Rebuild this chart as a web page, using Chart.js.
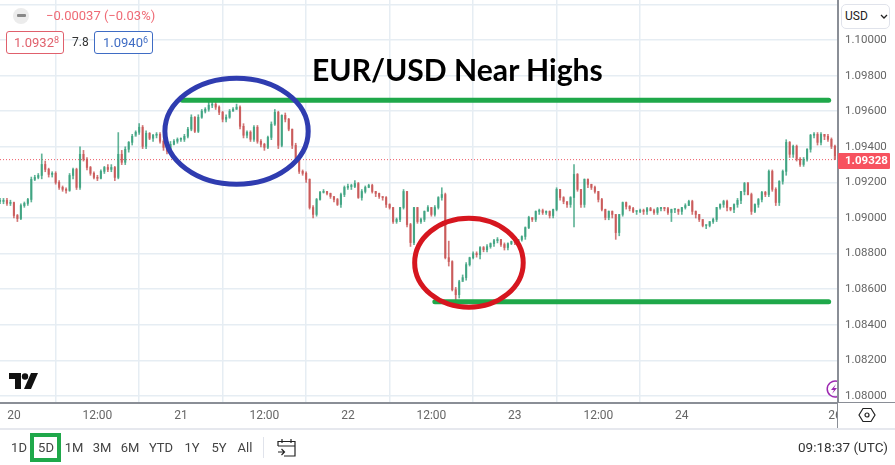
<!DOCTYPE html>
<html>
<head>
<meta charset="utf-8">
<title>EUR/USD Near Highs</title>
<script src="https://cdn.jsdelivr.net/npm/chart.js@4/dist/chart.umd.min.js"></script>
<style>
    html, body { margin: 0; padding: 0; background: #fff; }
    #wrap { position: relative; width: 895px; height: 465px; overflow: hidden; font-family: Roboto, "Liberation Sans", sans-serif; }
    #wrap canvas { position: absolute; left: 0; top: 0; }
    .t { position: absolute; white-space: nowrap; line-height: 1; }
    .box { position: absolute; box-sizing: border-box; background: #fff; border-radius: 3px; }
    .range { position: absolute; top: 441px; font-size: 13px; line-height: 14px; color: #444; transform: translateX(-50%); }
    sup { font-size: 9px; line-height: 0; vertical-align: 4px; }
    svg { position: absolute; overflow: visible; }
</style>
</head>
<body>
<div id="wrap">
    <canvas id="chart" width="895" height="465"></canvas>

    <!-- Header -->
    <div style="position:absolute;left:13px;top:8px;width:16px;height:16px;border-radius:50%;background:#ececec"></div>
    <div style="position:absolute;left:17px;top:14px;width:9px;height:3px;border-radius:1px;background:#888"></div>
    <div class="t" style="left:46px;top:9px;font-size:13px;color:#ef6a75">−0.00037 (−0.03%)</div>
    <div class="box" style="left:6px;top:31px;width:58px;height:23px;border:1px solid #e0606c"></div>
    <div class="t" style="left:14px;top:36px;font-size:13px;color:#e0606c">1.0932<sup>8</sup></div>
    <div class="t" style="left:72px;top:36px;font-size:12px;color:#333">7.8</div>
    <div class="box" style="left:94px;top:31px;width:59px;height:23px;border:1px solid #3f6cc4"></div>
    <div class="t" style="left:103px;top:36px;font-size:13px;color:#3f6cc4">1.0940<sup>6</sup></div>
    <div class="t" style="left:312px;top:54px;font-family:Lato;font-weight:700;font-size:30.1px;color:#000">EUR/USD Near Highs</div>

    <!-- Price panel -->
    <div class="box" style="left:841px;top:4px;width:49px;height:25px;border:1px solid #e0e3eb;border-radius:5px"></div>
    <div class="t" style="left:845px;top:10px;font-size:12px;color:#222">USD</div>
    <svg style="left:880px;top:14px" width="8" height="6"><path d="M1 1 L4 4 L7 1" fill="none" stroke="#222" stroke-width="1.3"/></svg>
    <div class="box" style="left:838px;top:153px;width:52px;height:16px;background:#f7525f;border-radius:1px"></div>
    <div class="t" style="left:845px;top:155px;font-size:11.5px;font-weight:700;color:#fff">1.09328</div>

    <!-- Bottom corner -->
    <div class="box" style="left:838px;top:403px;width:57px;height:25px;border-radius:0"></div>
    <svg style="left:858px;top:407px" width="18" height="16"><path d="M1 8 L5 1.5 H13 L17 8 L13 14.5 H5 Z" fill="none" stroke="#222" stroke-width="1.2"/><circle cx="9" cy="8" r="2" fill="none" stroke="#222" stroke-width="1.2"/></svg>
    <svg style="left:825px;top:380px" width="12" height="18" viewBox="0 0 12 18"><path d="M12 1.2 A8 8 0 1 0 12 16.8" fill="none" stroke="#9c27b0" stroke-width="1.5"/><path d="M11 4 L6 10 H9 L7 14 L12 8 H9 Z" fill="#9c27b0"/></svg>
    <svg style="left:9px;top:373px" width="30" height="17" viewBox="0 0 30 17"><path d="M0 0 H12 V16 H6 V6 H0 Z" fill="#111"/><circle cx="16" cy="3.5" r="3.2" fill="#111"/><path d="M22 0 H29 L22 16 H15 Z" fill="#111"/></svg>

    <!-- Range toolbar -->
    <div class="box" style="left:30px;top:433px;width:31px;height:29px;border:4px solid #1fa84a;border-radius:0"></div>
    <div class="range" style="left:19px">1D</div>
    <div class="range" style="left:46px">5D</div>
    <div class="range" style="left:74px">1M</div>
    <div class="range" style="left:102px">3M</div>
    <div class="range" style="left:130px">6M</div>
    <div class="range" style="left:161px">YTD</div>
    <div class="range" style="left:192px">1Y</div>
    <div class="range" style="left:219px">5Y</div>
    <div class="range" style="left:245px">All</div>
    <div style="position:absolute;left:263px;top:437px;width:1px;height:21px;background:#e0e3eb"></div>
    <svg style="left:277px;top:438px" width="19" height="19"><path d="M1 8 V3.5 H18 V18 H7 M1 8 H18 M5 1 V5 M14 1 V5 M1 14 H7 M4.5 11 L7.5 14 L4.5 17" fill="none" stroke="#222" stroke-width="1.2"/></svg>
    <div class="t" style="right:7px;top:441px;font-size:13.5px;color:#333">09:18:37 (UTC)</div>
</div>

<script>

// Data Storage {

    // Axis {

        const yTicks = [1.10200, 1.10000, 1.09800, 1.09600, 1.09400, 1.09200, 1.09000, 1.08800, 1.08600, 1.08400, 1.08200, 1.08000];
        const yLabelled = [1.10000, 1.09800, 1.09600, 1.09400, 1.09200, 1.09000, 1.08800, 1.08600, 1.08400, 1.08200, 1.08000];
        const xHours = [0, 12, 24, 36, 48, 60, 72, 84, 96, 118];
        const xLabels = ['20', '12:00', '21', '12:00', '22', '12:00', '23', '12:00', '24', '26'];

    // };

    // Candles, one every half hour from 22:00 on the 19th {

        const closes = [
            1.09093,1.09099,1.09082,1.09087,1.09014,1.08997,1.09070,1.09082,1.09104,1.09217,
            1.09228,1.09239,1.09301,1.09273,1.09245,1.09251,1.09200,1.09172,1.09161,1.09155,
            1.09239,1.09273,1.09172,1.09358,1.09330,1.09284,1.09251,1.09228,1.09223,1.09262,
            1.09284,1.09273,1.09284,1.09228,1.09358,1.09313,1.09386,1.09425,1.09459,1.09482,
            1.09510,1.09403,1.09476,1.09448,1.09465,1.09470,1.09431,1.09397,1.09375,1.09414,
            1.09431,1.09442,1.09442,1.09459,1.09499,1.09566,1.09487,1.09566,1.09600,1.09611,
            1.09634,1.09639,1.09623,1.09594,1.09555,1.09566,1.09600,1.09611,1.09623,1.09515,
            1.09465,1.09482,1.09442,1.09510,1.09431,1.09414,1.09397,1.09453,1.09527,1.09594,
            1.09408,1.09577,1.09555,1.09499,1.09408,1.09330,1.09262,1.09251,1.09217,1.09059,
            1.09020,1.09104,1.09144,1.09149,1.09138,1.09121,1.09104,1.09076,1.09132,1.09172,
            1.09177,1.09177,1.09194,1.09115,1.09149,1.09172,1.09183,1.09149,1.09138,1.09121,
            1.09115,1.09076,1.09059,1.08980,1.08992,1.09059,1.09149,1.08963,1.08862,1.09059,
            1.08980,1.08992,1.09037,1.09059,1.09020,1.09059,1.09115,1.09132,1.08777,1.08755,
            1.08597,1.08569,1.08642,1.08665,1.08738,1.08777,1.08800,1.08794,1.08834,1.08822,
            1.08839,1.08856,1.08873,1.08879,1.08851,1.08834,1.08856,1.08868,1.08862,1.08879,
            1.08896,1.08946,1.09003,1.08992,1.09037,1.09042,1.09031,1.09037,1.09014,1.09048,
            1.09161,1.09115,1.09093,1.09076,1.09115,1.09245,1.09161,1.09076,1.09217,1.09189,
            1.09172,1.09149,1.09104,1.09048,1.09003,1.09037,1.09020,1.08918,1.09020,1.09087,
            1.09065,1.09053,1.09037,1.09037,1.09042,1.09037,1.09053,1.09042,1.09031,1.09053,
            1.09059,1.09053,1.09031,1.09048,1.09048,1.09037,1.09059,1.09070,1.09093,1.09037,
            1.09020,1.08992,1.08958,1.08958,1.08980,1.08992,1.09059,1.09076,1.09093,1.09059,
            1.09048,1.09076,1.09099,1.09149,1.09194,1.09132,1.09037,1.09076,1.09104,1.09144,
            1.09132,1.09262,1.09161,1.09087,1.09206,1.09262,1.09425,1.09358,1.09403,1.09330,
            1.09301,1.09330,1.09386,1.09465,1.09470,1.09425,1.09470,1.09459,1.09442,1.09403,1.09328
        ];

        const highs = [
            1.0911,1.0911,1.0911,1.0910,1.0909,1.0902,1.0908,1.0909,1.0911,1.0923,
            1.0924,1.0925,1.0936,1.0932,1.0928,1.0926,1.0926,1.0921,1.0918,1.0917,
            1.0925,1.0928,1.0928,1.0940,1.0938,1.0934,1.0929,1.0926,1.0924,1.0927,
            1.0929,1.0930,1.0930,1.0929,1.0948,1.0938,1.0940,1.0943,1.0947,1.0949,
            1.0953,1.0952,1.0949,1.0948,1.0947,1.0948,1.0948,1.0944,1.0941,1.0943,
            1.0944,1.0945,1.0945,1.0947,1.0951,1.0958,1.0957,1.0958,1.0961,1.0962,
            1.0965,1.0966,1.0965,1.0963,1.0960,1.0958,1.0961,1.0962,1.0964,1.0963,
            1.0953,1.0949,1.0949,1.0952,1.0952,1.0944,1.0942,1.0946,1.0954,1.0961,
            1.0960,1.0958,1.0959,1.0956,1.0950,1.0942,1.0934,1.0927,1.0926,1.0922,
            1.0907,1.0911,1.0915,1.0916,1.0915,1.0914,1.0912,1.0911,1.0914,1.0918,
            1.0919,1.0919,1.0921,1.0920,1.0916,1.0918,1.0919,1.0919,1.0915,1.0914,
            1.0912,1.0912,1.0908,1.0906,1.0900,1.0906,1.0916,1.0915,1.0897,1.0906,
            1.0906,1.0900,1.0904,1.0907,1.0906,1.0907,1.0912,1.0917,1.0914,1.0887,
            1.0876,1.0861,1.0865,1.0868,1.0875,1.0878,1.0881,1.0881,1.0884,1.0884,
            1.0885,1.0886,1.0888,1.0889,1.0888,1.0886,1.0886,1.0887,1.0887,1.0888,
            1.0890,1.0895,1.0901,1.0900,1.0904,1.0905,1.0905,1.0904,1.0904,1.0905,
            1.0917,1.0916,1.0912,1.0909,1.0912,1.0930,1.0925,1.0916,1.0922,1.0922,
            1.0919,1.0918,1.0915,1.0911,1.0905,1.0904,1.0904,1.0902,1.0902,1.0909,
            1.0909,1.0907,1.0906,1.0904,1.0905,1.0905,1.0906,1.0906,1.0905,1.0906,
            1.0906,1.0906,1.0906,1.0905,1.0905,1.0905,1.0906,1.0908,1.0910,1.0910,
            1.0904,1.0902,1.0899,1.0896,1.0898,1.0900,1.0906,1.0908,1.0910,1.0910,
            1.0906,1.0908,1.0911,1.0915,1.0920,1.0920,1.0914,1.0908,1.0911,1.0915,
            1.0915,1.0927,1.0927,1.0917,1.0921,1.0927,1.0944,1.0943,1.0941,1.0941,
            1.0934,1.0934,1.0939,1.0947,1.0948,1.0948,1.0948,1.0947,1.0947,1.0945,1.0941
        ];

        const lows = [
            1.0908,1.0908,1.0907,1.0907,1.0900,1.0898,1.0899,1.0906,1.0907,1.0909,
            1.0921,1.0922,1.0922,1.0926,1.0923,1.0923,1.0919,1.0916,1.0915,1.0914,
            1.0915,1.0922,1.0916,1.0916,1.0932,1.0927,1.0924,1.0922,1.0921,1.0922,
            1.0925,1.0926,1.0926,1.0921,1.0922,1.0930,1.0930,1.0937,1.0941,1.0947,
            1.0947,1.0939,1.0939,1.0944,1.0943,1.0945,1.0942,1.0938,1.0936,1.0937,
            1.0941,1.0942,1.0943,1.0943,1.0945,1.0949,1.0948,1.0948,1.0956,1.0959,
            1.0960,1.0962,1.0961,1.0958,1.0954,1.0954,1.0956,1.0960,1.0961,1.0950,
            1.0945,1.0945,1.0943,1.0943,1.0942,1.0940,1.0938,1.0939,1.0944,1.0952,
            1.0939,1.0940,1.0954,1.0949,1.0939,1.0932,1.0925,1.0924,1.0920,1.0905,
            1.0900,1.0901,1.0910,1.0914,1.0913,1.0911,1.0909,1.0907,1.0906,1.0912,
            1.0916,1.0916,1.0917,1.0911,1.0910,1.0914,1.0917,1.0914,1.0912,1.0911,
            1.0910,1.0906,1.0905,1.0897,1.0897,1.0898,1.0905,1.0895,1.0884,1.0885,
            1.0897,1.0897,1.0898,1.0904,1.0901,1.0901,1.0905,1.0910,1.0877,1.0873,
            1.0859,1.0854,1.0855,1.0865,1.0865,1.0873,1.0877,1.0878,1.0877,1.0881,
            1.0881,1.0883,1.0884,1.0886,1.0884,1.0882,1.0882,1.0885,1.0885,1.0885,
            1.0887,1.0888,1.0894,1.0898,1.0898,1.0902,1.0902,1.0902,1.0900,1.0900,
            1.0904,1.0910,1.0908,1.0906,1.0906,1.0895,1.0915,1.0906,1.0906,1.0917,
            1.0916,1.0914,1.0909,1.0904,1.0899,1.0899,1.0900,1.0888,1.0890,1.0901,
            1.0905,1.0904,1.0903,1.0902,1.0903,1.0902,1.0902,1.0904,1.0902,1.0902,
            1.0904,1.0904,1.0902,1.0898,1.0903,1.0902,1.0902,1.0905,1.0907,1.0902,
            1.0900,1.0898,1.0895,1.0894,1.0895,1.0897,1.0898,1.0905,1.0906,1.0904,
            1.0904,1.0903,1.0906,1.0908,1.0913,1.0913,1.0902,1.0903,1.0906,1.0909,
            1.0912,1.0912,1.0915,1.0907,1.0907,1.0919,1.0924,1.0934,1.0934,1.0932,
            1.0929,1.0929,1.0932,1.0937,1.0945,1.0941,1.0941,1.0944,1.0943,1.0939,1.0935
        ];

    // };

    // Drawn levels and circles {

        const lastPrice = 1.09328;
        const resistance = { from: 24.2, to: 117.1, price: 1.09662 };
        const support = { from: 60.5, to: 117.1, price: 1.08530 };

        const circles = [
            { hour: 32.0, price: 1.09487, rh: 10.3, rp: 0.00298, color: '#2f3cb0' },
            { hour: 65.4, price: 1.08749, rh: 7.8, rp: 0.00250, color: '#d6161f' }
        ];

    // };

// };

// Chart Function {

    const startHour = -2;
    const candleHour = (i) => startHour + i * 0.5;
    const upColor = 'rgba(56, 160, 125, 0.8)';
    const downColor = 'rgba(200, 85, 85, 0.8)';
    const candleColor = (i) => closes[i] >= (i ? closes[i - 1] : closes[i]) ? upColor : downColor;

    const bodies = closes.map((c, i) => ({ x: candleHour(i), y: [i ? closes[i - 1] : c, c] }));
    const wicks = closes.map((c, i) => ({ x: candleHour(i), y: [lows[i], highs[i]] }));

    const ellipses = {
        id: 'ellipses',
        afterDatasetsDraw(chart) {
            const { ctx, scales: { x, y } } = chart;
            circles.forEach((c) => {
                ctx.save();
                ctx.beginPath();
                ctx.ellipse(
                    x.getPixelForValue(c.hour),
                    y.getPixelForValue(c.price),
                    Math.abs(x.getPixelForValue(c.hour + c.rh) - x.getPixelForValue(c.hour)),
                    Math.abs(y.getPixelForValue(c.price + c.rp) - y.getPixelForValue(c.price)),
                    0, 0, Math.PI * 2
                );
                ctx.lineWidth = 5;
                ctx.strokeStyle = c.color;
                ctx.stroke();
                ctx.restore();
            });
        }
    };

    // the axis lines run down past the plot into the time strip
    const frame = {
        id: 'frame',
        afterDraw(chart) {
            const { ctx, chartArea: a } = chart;
            ctx.save();
            ctx.fillStyle = '#8a8e96';
            ctx.fillRect(a.right, 0, 2, 429);
            ctx.fillRect(0, a.bottom, 895, 2);
            ctx.fillStyle = '#e6e8ee';
            ctx.fillRect(0, 428, 895, 2);
            ctx.restore();
        }
    };

    new Chart(document.getElementById('chart').getContext('2d'), {
        type: 'bar',
        data: {
            datasets: [
                {
                    type: 'line',
                    label: 'Resistance',
                    data: [{ x: resistance.from, y: resistance.price }, { x: resistance.to, y: resistance.price }],
                    borderColor: '#1fa84a',
                    borderWidth: 5,
                    borderCapStyle: 'round',
                    pointRadius: 0,
                    order: 0
                },
                {
                    type: 'line',
                    label: 'Support',
                    data: [{ x: support.from, y: support.price }, { x: support.to, y: support.price }],
                    borderColor: '#1fa84a',
                    borderWidth: 5,
                    borderCapStyle: 'round',
                    pointRadius: 0,
                    order: 0
                },
                {
                    type: 'line',
                    label: 'Last',
                    data: [{ x: startHour, y: lastPrice }, { x: 118.3, y: lastPrice }],
                    borderColor: '#ee5a66',
                    borderWidth: 1,
                    borderDash: [1, 2],
                    pointRadius: 0,
                    order: 3
                },
                {
                    label: 'Body',
                    data: bodies,
                    backgroundColor: closes.map((c, i) => candleColor(i)),
                    barThickness: 1.5,
                    minBarLength: 1,
                    order: 1
                },
                {
                    label: 'Wick',
                    data: wicks,
                    backgroundColor: closes.map((c, i) => candleColor(i)),
                    barThickness: 1,
                    order: 2
                }
            ]
        },
        options: {
            responsive: false,
            animation: false,
            grouped: false,
            layout: { padding: 0 },
            plugins: { legend: { display: false }, tooltip: { enabled: false } },
            scales: {
                x: {
                    type: 'linear',
                    offset: false,
                    min: startHour,
                    max: 118.3,
                    afterFit(s) { s.height = 63; s.paddingLeft = 0; s.paddingRight = 0; },
                    afterBuildTicks(s) { s.ticks = xHours.map((v) => ({ value: v })); },
                    border: { display: false },
                    grid: {
                        drawTicks: false,
                        color: (c) => c.tick && c.tick.value === 118 ? 'rgba(0,0,0,0)' : '#e6edf3',
                        lineWidth: 1.5
                    },
                    ticks: {
                        autoSkip: false,
                        maxRotation: 0,
                        padding: 7,
                        color: '#666',
                        font: { family: 'Roboto', size: 12 },
                        callback: (v) => xLabels[xHours.indexOf(v)]
                    }
                },
                y: {
                    position: 'right',
                    min: 1.07966,
                    max: 1.10225,
                    afterFit(s) { s.width = 58; s.paddingTop = 0; s.paddingBottom = 0; },
                    afterBuildTicks(s) { s.ticks = yTicks.map((v) => ({ value: v })); },
                    border: { display: false },
                    grid: { drawTicks: false, color: '#e6edf3', lineWidth: 1.5 },
                    ticks: {
                        autoSkip: false,
                        padding: 8,
                        color: '#666',
                        font: { family: 'Roboto', size: 11.5 },
                        callback: (v) => yLabelled.includes(v) ? v.toFixed(5) : ''
                    }
                }
            }
        },
        plugins: [ellipses, frame]
    });

// };

</script>
</body>
</html>
